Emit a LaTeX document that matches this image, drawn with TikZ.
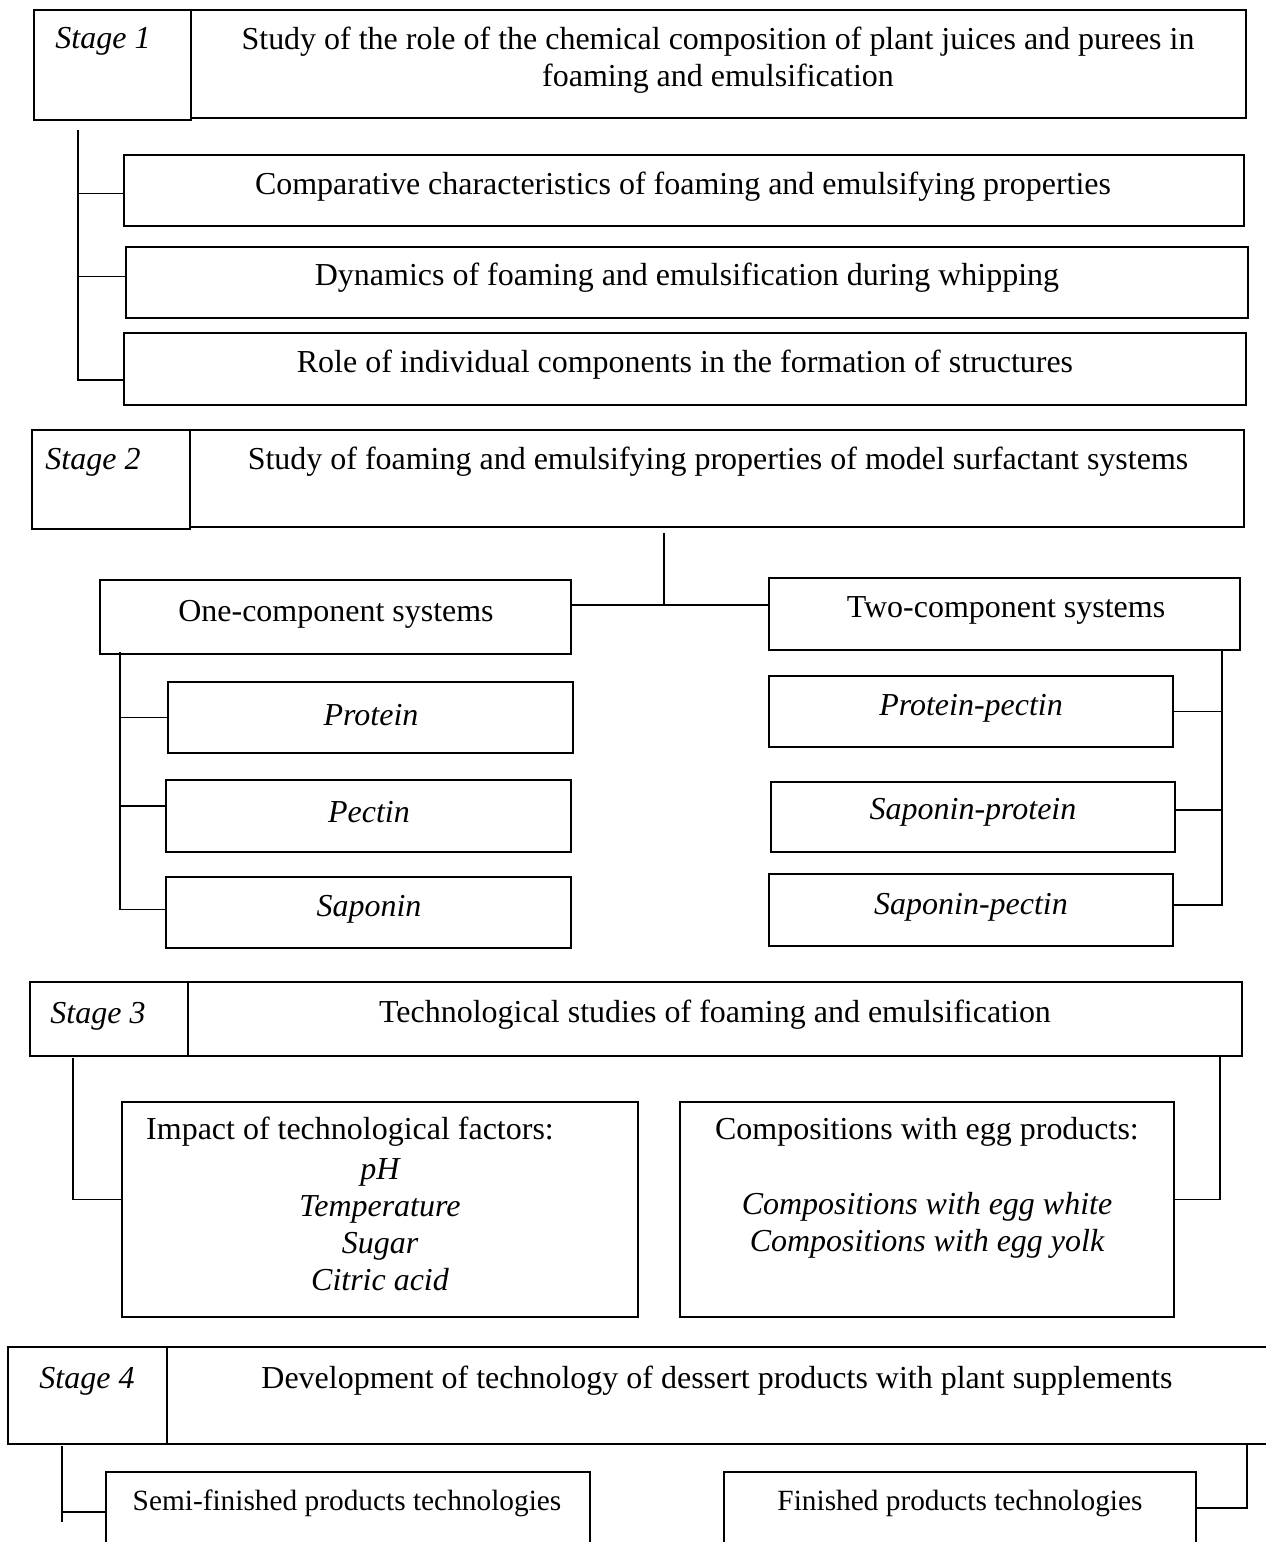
\documentclass[tikz,border=0pt]{standalone}
\usepackage{fontspec}
\setmainfont{Liberation Serif}
\usetikzlibrary{fit,calc}
\begin{document}
\begin{tikzpicture}[x=0.02cm, y=-0.02cm, line width=1pt, line join=miter,
	box/.style={draw, inner sep=0pt},
	lbl/.style={font=\fontsize{18.2}{21}\selectfont, align=center, inner sep=0pt},
	stagelbl/.style={font=\fontsize{18.2}{21}\selectfont\itshape, inner sep=0pt},
	item/.style={font=\fontsize{18.2}{21}\selectfont\itshape, align=center, inner sep=0pt},
	small/.style={font=\fontsize{16.7}{20}\selectfont, inner sep=0pt}]
				\useasboundingbox (0,0) rectangle (1266,1542);
				\clip (0,0) rectangle (1266,1542);
				% stage 1
				\node[box, fit={(34,10)(191,120)}] (s1) {};
				\node[box, fit={(191,10)(1246,118)}] (h1) {};
				\node[stagelbl] (s1t) at (103,41) {Stage 1};
				\node[lbl] (h1t) at (718,60) {Study of the role of the chemical composition of plant juices and purees in\\ foaming and emulsification};
				\node[box, fit={(124,155)(1244,226)}] (a1) {};
				\node[box, fit={(126,247)(1248,318)}] (a2) {};
				\node[box, fit={(124,333)(1246,405)}] (a3) {};
				\node[lbl] (a1t) at (683,187) {Comparative characteristics of foaming and emulsifying properties};
				\node[lbl] (a2t) at (687,278) {Dynamics of foaming and emulsification during whipping};
				\node[lbl] (a3t) at (685,365) {Role of individual components in the formation of structures};
				\coordinate (k1) at (78,130);
				\draw (k1) |- ($(a3.west)+(0,11)$);
				\draw ($(k1 |- a1.west)+(0,3)$) -- ($(a1.west)+(0,3)$)
				($(k1 |- a2.west)+(0,-6)$) -- ($(a2.west)+(0,-6)$);
				% stage 2
				\node[box, fit={(32,430)(190,529)}] (s2) {};
				\node[box, fit={(190,430)(1244,527)}] (h2) {};
				\node[stagelbl] (s2t) at (93,462) {Stage 2};
				\node[lbl] (h2t) at (718,462) {Study of foaming and emulsifying properties of model surfactant systems};
				\node[box, fit={(100,580)(571,654)}] (one) {};
				\node[box, fit={(769,578)(1240,650)}] (two) {};
				\node[lbl] (onet) at (336,614) {One-component systems};
				\node[lbl] (twot) at (1006,610) {Two-component systems};
				\coordinate (j2) at (664,605);
				\draw (j2) -- ($(j2 |- h2.south)+(0,5)$);
				\draw (one.east |- j2) -- (two.west |- j2);
				\node[box, fit={(168,682)(573,753)}] (p1) {};
				\node[box, fit={(166,780)(571,852)}] (p2) {};
				\node[box, fit={(166,877)(571,948)}] (p3) {};
				\node[item] (p1t) at (371,715) {Protein};
				\node[item] (p2t) at (369,812) {Pectin};
				\node[item] (p3t) at (369,909) {Saponin};
				\coordinate (k2) at (120,652);
				\draw (k2) |- ($(p3.west)+(0,-3)$);
				\draw (k2 |- p1.west) -- (p1.west)
				($(k2 |- p2.west)+(0,-10)$) -- ($(p2.west)+(0,-10)$);
				\node[box, fit={(769,676)(1173,747)}] (q1) {};
				\node[box, fit={(771,782)(1175,852)}] (q2) {};
				\node[box, fit={(769,874)(1173,946)}] (q3) {};
				\node[item] (q1t) at (971,708) {Protein-pectin};
				\node[item] (q2t) at (973,812) {Saponin-protein};
				\node[item] (q3t) at (971,907) {Saponin-pectin};
				\coordinate (k3) at (1222,650);
				\draw (k3) |- ($(q3.east)+(0,-5)$);
				\draw (k3 |- q1.east) -- (q1.east)
				($(k3 |- q2.east)+(0,-7)$) -- ($(q2.east)+(0,-7)$);
				% stage 3
				\node[box, fit={(30,982)(188,1056)}] (s3) {};
				\node[box, fit={(188,982)(1242,1056)}] (h3) {};
				\node[stagelbl] (s3t) at (98,1016) {Stage 3};
				\node[lbl] (h3t) at (715,1015) {Technological studies of foaming and emulsification};
				\node[box, fit={(122,1102)(638,1317)}] (f1) {};
				\node[box, fit={(680,1102)(1174,1317)}] (f2) {};
				\node[lbl] (f1h) at (350,1132) {Impact of technological factors:};
				\node[item] (f1t) at (380,1225) {pH\\ Temperature\\ Sugar\\ Citric acid};
				\node[lbl] (f2h) at (927,1132) {Compositions with egg products:};
				\node[item] (f2t) at (927,1225) {Compositions with egg white\\ Compositions with egg yolk};
				\coordinate (k4) at (73,1058);
				\draw (k4) |- ($(f1.west)+(0,-10)$);
				\coordinate (k5) at (1220,1056);
				\draw (k5) |- ($(f2.east)+(0,-10)$);
				% stage 4
				\node[box, fit={(8,1347)(167,1444)}] (s4) {};
				\node[box, fit={(167,1347)(1267,1444)}] (h4) {};
				\node[stagelbl] (s4t) at (87,1381) {Stage 4};
				\node[lbl] (h4t) at (717,1381) {Development of technology of dessert products with plant supplements};
				\node[box, fit={(106,1472)(590,1580)}] (g1) {};
				\node[box, fit={(724,1472)(1196,1580)}] (g2) {};
				\node[small] (g1t) at (347,1503) {Semi-finished products technologies};
				\node[small] (g2t) at (960,1503) {Finished products technologies};
				\coordinate (k6) at (62,1446);
				\draw (k6) -- ($(k6)+(0,76)$);
				\draw (k6 |- 0,1512) -- (g1.west |- 0,1512);
				\coordinate (k7) at (1247,1444);
				\draw (k7) |- (g2.east |- 0,1508);
\end{tikzpicture}
\end{document}
